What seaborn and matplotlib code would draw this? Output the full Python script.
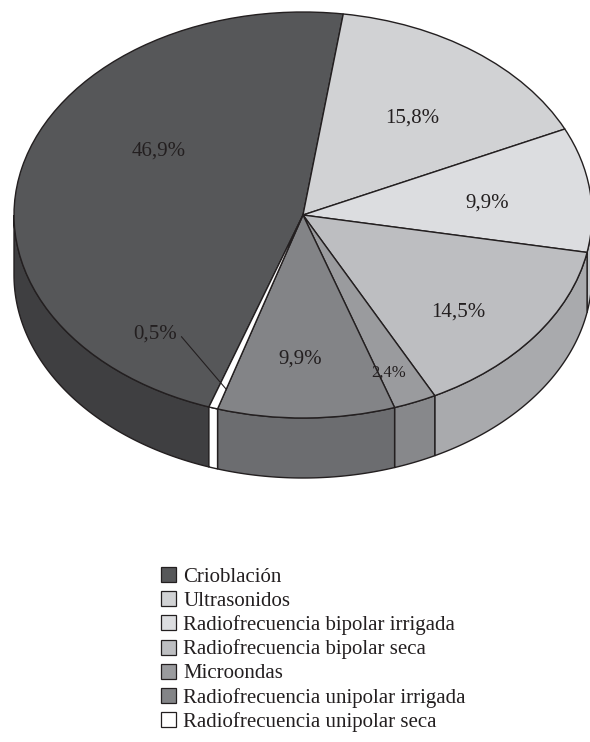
import numpy as np
import matplotlib
matplotlib.use("Agg")
import matplotlib.pyplot as plt
import seaborn as sns
from matplotlib.patches import Polygon, Patch
from matplotlib.transforms import Affine2D

# ---------------- data ----------------
categories = ["Crioblación", "Ultrasonidos", "Radiofrecuencia bipolar irrigada",
              "Radiofrecuencia bipolar seca", "Microondas",
              "Radiofrecuencia unipolar irrigada", "Radiofrecuencia unipolar seca"]
values = [46.9, 15.8, 9.9, 14.5, 2.4, 9.9, 0.5]
value_labels = ["46,9%", "15,8%", "9,9%", "14,5%", "2,4%", "9,9%", "0,5%"]

top_colors = ["#565759", "#d1d2d4", "#dcdde0", "#bdbec1", "#9a9b9e", "#838487", "#ffffff"]
side_colors = ["#3f3f41", "#bdbec0", "#c6c7ca", "#a9aaad", "#87888b", "#6c6d70", "#ffffff"]

# label placement (radius in pie units, angular nudge in degrees)
label_r = [0.59, 0.61, 0.64, 0.72, 0.83, 0.71, 0.78]
label_dang = [-18.5, -2.0, -2.0, -5.0, -2.0, -1.5, -23.0]
label_size = [15, 15, 15, 15, 12, 15, 15]

# ---------------- style ----------------
sns.set_theme(style="white")
plt.rcParams['font.family'] = ['Liberation Serif', 'DejaVu Serif']
INK = "#231f20"

W, H = 590, 742
fig = plt.figure(figsize=(W / 100, H / 100), dpi=100)
ax = fig.add_axes([0, 0, 1, 1])

R = 289.0           # pixels per pie unit
cx, cy = 303.0, 215.0
k = 203.0 / 289.0   # vertical squash of the tilted pie
depth = 60.0 / R

wedges, _ = ax.pie(values, colors=top_colors, startangle=251, counterclock=False,
                   wedgeprops=dict(edgecolor=INK, linewidth=1.0))
squash = Affine2D().scale(1, k) + ax.transData
for w in wedges:
    w.set_transform(squash)
    w.set_zorder(3)

# side walls (front half only)
for w, sc in zip(wedges, side_colors):
    t1, t2 = w.theta1, w.theta2
    for n in range(-2, 3):
        a = max(t1, 180 + 360 * n)
        b = min(t2, 360 + 360 * n)
        if b > a:
            t = np.radians(np.linspace(a, b, 80))
            top = np.column_stack([np.cos(t), k * np.sin(t)])
            bot = np.column_stack([np.cos(t), k * np.sin(t) - depth])[::-1]
            poly = Polygon(np.vstack([top, bot]), closed=True, facecolor=sc,
                           edgecolor=INK, linewidth=1.0, zorder=2)
            ax.add_patch(poly)

# value labels
for i, (w, lab) in enumerate(zip(wedges, value_labels)):
    mid = np.radians((w.theta1 + w.theta2) / 2 + label_dang[i])
    x, y = label_r[i] * np.cos(mid), k * label_r[i] * np.sin(mid)
    ax.text(x, y, lab, ha="center", va="center", fontsize=label_size[i],
            color=INK, zorder=5)
    if i == len(values) - 1:
        m = np.radians((w.theta1 + w.theta2) / 2 + 1.0)
        ex, ey = 0.90 * np.cos(m), k * 0.90 * np.sin(m)
        sx, sy = x + 0.092, y - 0.008
        ax.plot([sx, ex], [sy, ey], color=INK, lw=0.8, zorder=5)

ax.set_xlim(-cx / R, (W - cx) / R)
ax.set_ylim((cy - H) / R, cy / R)
ax.set_aspect("auto")
ax.axis("off")

# legend
handles = [Patch(facecolor=c, edgecolor=INK, linewidth=0.9) for c in top_colors]
fig.legend(handles, categories, loc="upper left",
           bbox_to_anchor=(161 / W, 1 - 567 / H), frameon=False, fontsize=15,
           handlelength=0.72, handleheight=0.72, handletextpad=0.35,
           labelspacing=0.21, borderpad=0, borderaxespad=0, labelcolor=INK)

fig.savefig("out.png", dpi=100, facecolor="white")
